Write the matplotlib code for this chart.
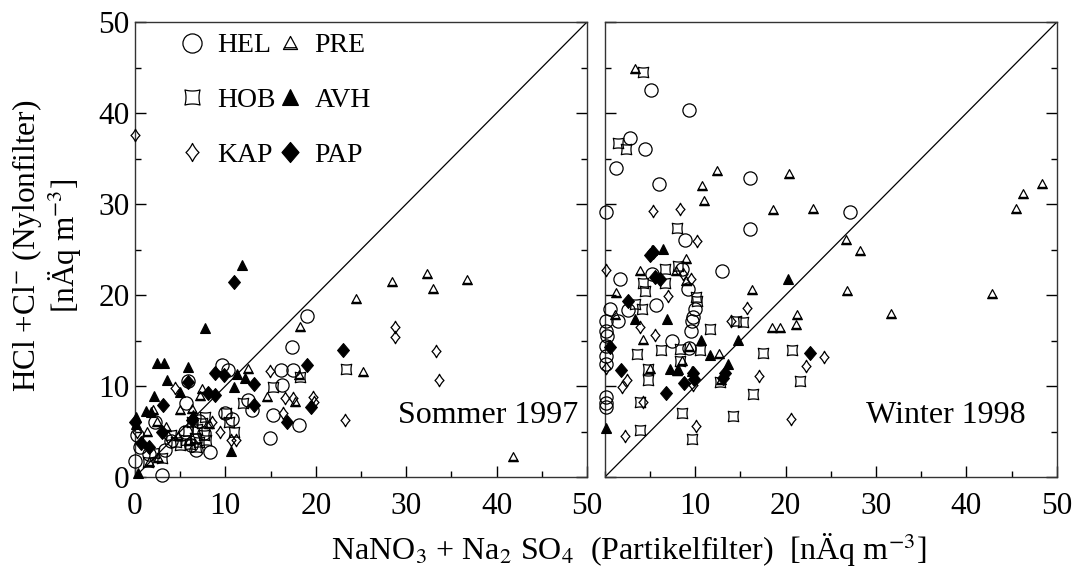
import numpy as np
import matplotlib
matplotlib.use("Agg")
import matplotlib.pyplot as plt
from matplotlib.path import Path
from matplotlib.ticker import MultipleLocator

plt.rcParams["font.family"] = ["Liberation Serif", "DejaVu Serif"]
plt.rcParams["mathtext.fontset"] = "stix"

sites = ["HEL", "HOB", "KAP", "PRE", "AVH", "PAP"]

# Sommer 1997: (NaNO3 + Na2SO4, HCl + Cl-) in nAeq m-3
sommer_hel = [(19.0, 17.7), (17.4, 14.3), (9.6, 12.3), (10.3, 11.8), (16.2, 11.8), (17.5, 11.8),
              (16.3, 10.1), (5.9, 10.5), (12.5, 8.5), (12.9, 7.4), (15.3, 6.8), (18.1, 5.7),
              (14.9, 4.3), (10.7, 6.4), (10.0, 7.0), (3.0, 0.2), (0.0, 1.8), (0.2, 4.6),
              (8.3, 2.8), (6.8, 3.0), (5.7, 8.1), (7.1, 6.2), (2.2, 6.1), (5.5, 5.0),
              (0.6, 3.3), (4.0, 4.0), (6.2, 3.5), (7.6, 4.8), (3.3, 3.0), (1.5, 2.5)]
sommer_hob = [(23.3, 11.9), (18.3, 11.0), (15.3, 9.9), (12.0, 8.1), (10.9, 5.0), (10.1, 7.0),
              (3.0, 2.1), (1.4, 1.6), (5.0, 3.5), (5.6, 4.1), (6.1, 3.6), (6.6, 4.3),
              (7.1, 3.9), (7.6, 4.6), (5.9, 5.1), (6.9, 5.3), (7.4, 5.9), (7.9, 4.1),
              (4.5, 3.9), (6.3, 6.1), (7.7, 6.6), (2.1, 2.6), (6.8, 3.3), (4.0, 4.6), (10.4, 6.0)]
sommer_kap = [(0.0, 37.6), (28.8, 16.5), (28.8, 15.4), (33.3, 13.8), (33.6, 10.7), (23.2, 6.3),
              (14.9, 11.6), (16.6, 8.7), (17.5, 8.7), (19.7, 8.8), (19.8, 8.3), (4.4, 9.8),
              (16.4, 7.0), (9.4, 5.0), (11.2, 4.1), (10.6, 4.1), (8.5, 6.0), (0.2, 4.9), (3.6, 4.4)]
sommer_pre = [(24.5, 19.6), (28.4, 21.4), (32.3, 22.3), (33.0, 20.7), (36.7, 21.6), (25.2, 11.5),
              (18.3, 16.5), (18.2, 11.2), (17.7, 8.3), (41.8, 2.2), (12.5, 11.9), (14.6, 8.8),
              (7.4, 9.7), (7.2, 8.9), (2.0, 7.4), (1.3, 4.9), (2.4, 6.1), (3.4, 5.5),
              (5.0, 7.4), (6.3, 7.5), (1.6, 1.6), (2.6, 2.1), (4.8, 4.5), (8.2, 5.8), (6.0, 4.0)]
sommer_avh = [(11.8, 23.3), (7.7, 16.4), (2.4, 12.5), (3.2, 12.5), (5.9, 12.1), (3.5, 10.7),
              (2.1, 8.9), (1.2, 7.3), (1.8, 7.2), (0.1, 6.6), (0.1, 5.8), (5.0, 9.4),
              (11.3, 11.3), (12.2, 10.9), (10.9, 9.9), (10.6, 2.9), (0.3, 0.4), (6.4, 6.8)]
sommer_pap = [(10.9, 21.4), (23.0, 14.0), (19.0, 12.3), (5.9, 10.4), (8.1, 9.2), (8.9, 9.0),
              (8.8, 11.4), (9.9, 11.2), (13.2, 10.2), (3.1, 7.9), (13.2, 7.9), (19.5, 7.7),
              (16.8, 6.1), (3.0, 5.0), (0.7, 3.7), (0.0, 6.1), (6.3, 6.3), (1.5, 3.3)]

# Winter 1998
winter_hel = [(5.1, 42.5), (9.3, 40.3), (2.8, 37.3), (4.4, 36.0), (1.2, 34.0), (6.0, 32.2),
              (16.0, 32.9), (0.1, 29.1), (27.1, 29.1), (16.1, 27.3), (8.9, 26.0), (13.0, 22.6),
              (1.7, 21.8), (5.2, 22.3), (9.2, 20.7), (0.6, 18.5), (2.6, 18.4), (5.7, 18.9),
              (0.1, 17.1), (1.5, 17.1), (0.1, 16.0), (9.8, 17.6), (10.0, 18.5), (9.6, 17.1),
              (9.5, 16.0), (7.4, 15.0), (9.3, 14.2), (0.1, 14.4), (0.1, 13.3), (0.1, 12.4),
              (0.1, 8.8), (0.1, 8.1), (0.1, 7.7), (8.5, 22.9), (0.2, 15.5)]
winter_hob = [(4.2, 44.5), (1.5, 36.7), (2.3, 36.1), (8.0, 27.4), (6.6, 22.9), (8.1, 23.2),
              (4.2, 21.3), (6.6, 21.3), (4.4, 20.4), (10.2, 19.3), (4.1, 18.5), (3.3, 19.0),
              (15.3, 17.0), (14.5, 17.2), (11.6, 16.3), (6.2, 14.0), (8.3, 14.1), (10.5, 14.0),
              (3.6, 13.5), (17.5, 13.6), (20.7, 14.0), (8.3, 12.7), (4.8, 11.9), (4.8, 10.7),
              (12.7, 10.4), (21.6, 10.5), (16.4, 9.1), (3.9, 8.3), (8.5, 7.0), (14.2, 6.7),
              (3.9, 5.2), (9.6, 4.2), (10.1, 19.8)]
winter_kap = [(5.3, 29.2), (8.3, 29.4), (10.2, 25.9), (0.1, 22.7), (9.5, 21.8), (7.0, 19.9),
              (15.7, 18.6), (13.9, 17.1), (5.5, 15.6), (3.9, 16.5), (24.2, 13.2), (22.2, 12.2),
              (17.1, 11.1), (2.4, 10.7), (1.9, 9.9), (4.2, 8.2), (2.2, 4.5), (10.1, 5.6),
              (20.6, 6.4), (0.1, 12.0), (9.8, 10.1), (8.6, 22.3)]
winter_pre = [(3.3, 44.8), (12.4, 33.6), (20.4, 33.3), (10.7, 32.0), (11.0, 30.3), (18.6, 29.3),
              (23.0, 29.5), (26.7, 26.1), (28.2, 24.8), (48.3, 32.2), (46.2, 31.1), (45.5, 29.5),
              (16.3, 20.5), (26.8, 20.4), (18.5, 16.4), (19.4, 16.4), (21.2, 17.8), (21.1, 16.7),
              (31.6, 17.9), (42.8, 20.1), (3.9, 22.6), (1.2, 20.2), (9.0, 24.0), (9.0, 21.5),
              (7.9, 22.6), (1.1, 17.8), (4.2, 15.1), (9.3, 14.3), (12.6, 13.5), (8.5, 12.7),
              (5.0, 11.9), (8.0, 11.7), (12.9, 10.7)]
winter_avh = [(5.2, 24.9), (6.4, 25.1), (20.3, 21.8), (14.7, 15.1), (13.6, 12.4), (6.9, 17.4),
              (3.3, 17.4), (10.6, 15.1), (11.6, 13.4), (7.2, 11.9), (8.1, 11.9), (9.6, 11.6),
              (0.1, 5.4)]
winter_pap = [(5.0, 24.4), (5.3, 24.7), (5.5, 22.0), (6.1, 21.8), (2.6, 19.3), (0.6, 14.3),
              (1.8, 11.8), (6.8, 9.2), (8.8, 10.3), (9.7, 11.4), (9.9, 10.8), (13.3, 11.4),
              (13.1, 10.9), (22.7, 13.6)]

sommer = dict(zip(sites, [sommer_hel, sommer_hob, sommer_kap, sommer_pre, sommer_avh, sommer_pap]))
winter = dict(zip(sites, [winter_hel, winter_hob, winter_kap, winter_pre, winter_avh, winter_pap]))


def concave_marker(corners, pull, n=10):
    verts = []
    for i in range(len(corners)):
        p0 = np.array(corners[i], float)
        p2 = np.array(corners[(i + 1) % len(corners)], float)
        c = (p0 + p2) / 2 * pull
        for t in np.linspace(0, 1, n, endpoint=False):
            verts.append((1 - t) ** 2 * p0 + 2 * (1 - t) * t * c + t ** 2 * p2)
    verts.append(verts[0])
    return Path(verts, closed=True)


hob_marker = concave_marker([(-1, -1), (1, -1), (1, 1), (-1, 1)], 0.72)
kap_marker = concave_marker([(0, 1), (0.72, 0), (0, -1), (-0.72, 0)], 0.8)
pre_marker = Path([(-1, -0.85), (1, -0.85), (0, 1), (-1, -0.85), (-0.8, -0.6), (0.8, -0.6)],
                  [Path.MOVETO, Path.LINETO, Path.LINETO, Path.CLOSEPOLY, Path.MOVETO, Path.LINETO])
pap_marker = Path([(0, 1), (0.85, 0), (0, -1), (-0.85, 0), (0, 1)], closed=True)

styles = {
    "HEL": dict(marker="o", ms=9.5, mfc="none", mec="black", mew=0.9),
    "HOB": dict(marker=hob_marker, ms=7.5, mfc="none", mec="black", mew=0.9),
    "KAP": dict(marker=kap_marker, ms=9, mfc="none", mec="black", mew=0.9),
    "PRE": dict(marker=pre_marker, ms=7, mfc="none", mec="black", mew=0.9),
    "AVH": dict(marker="^", ms=7.5, mfc="black", mec="black", mew=0.8),
    "PAP": dict(marker=pap_marker, ms=10, mfc="black", mec="black", mew=0.8),
}

fig = plt.figure(figsize=(10.84, 5.72), dpi=100)
ax1 = fig.add_axes([0.1245, 0.166, 0.417, 0.7955])
ax2 = fig.add_axes([0.558, 0.166, 0.417, 0.7955])

for ax, data in [(ax1, sommer), (ax2, winter)]:
    for name in sites:
        pts = np.array(data[name])
        ax.plot(pts[:, 0], pts[:, 1], ls="none", label=name, clip_on=False, zorder=3, **styles[name])
    ax.axline((0, 0), slope=1, color="black", lw=0.9, zorder=2)
    ax.set_xlim(0, 50)
    ax.set_ylim(0, 50)
    ax.xaxis.set_major_locator(MultipleLocator(10))
    ax.xaxis.set_minor_locator(MultipleLocator(5))
    ax.yaxis.set_major_locator(MultipleLocator(10))
    ax.yaxis.set_minor_locator(MultipleLocator(5))
    ax.tick_params(which="both", direction="in", left=True, right=True, top=False, bottom=True,
                   width=1.0, labelsize=22.5)
    ax.tick_params(which="major", length=8)
    ax.tick_params(which="minor", length=4)
    ax.tick_params(axis="x", pad=11)
    ax.tick_params(axis="y", pad=4)
    for sp in ax.spines.values():
        sp.set_linewidth(1.0)
        sp.set_color("#333333")

ax2.set_yticklabels([])
ax2.set_xticks([10, 20, 30, 40, 50])

ax1.text(49.0, 6.8, "Sommer 1997", ha="right", va="center", fontsize=23)
ax2.text(46.5, 6.8, "Winter 1998", ha="right", va="center", fontsize=23)

ax1.legend(ncol=2, loc="upper left", bbox_to_anchor=(0.096, 0.976), frameon=False, fontsize=20,
           markerscale=1.45, handlelength=1.0, handletextpad=0.4, columnspacing=0.0,
           labelspacing=1.05, borderaxespad=0, borderpad=0)

fig.text(0.043, 0.57, "HCl +Cl$^{-}$ (Nylonfilter)\n[nÄq m$^{-3}$]", rotation=90,
         ha="center", va="center", multialignment="center", fontsize=22.5, linespacing=1.05)
fig.text(0.58, 0.038, "NaNO$_3$ + Na$_2$ SO$_4$  (Partikelfilter)  [nÄq m$^{-3}$]",
         ha="center", va="center", fontsize=23)

fig.savefig("out.png", dpi=100)
